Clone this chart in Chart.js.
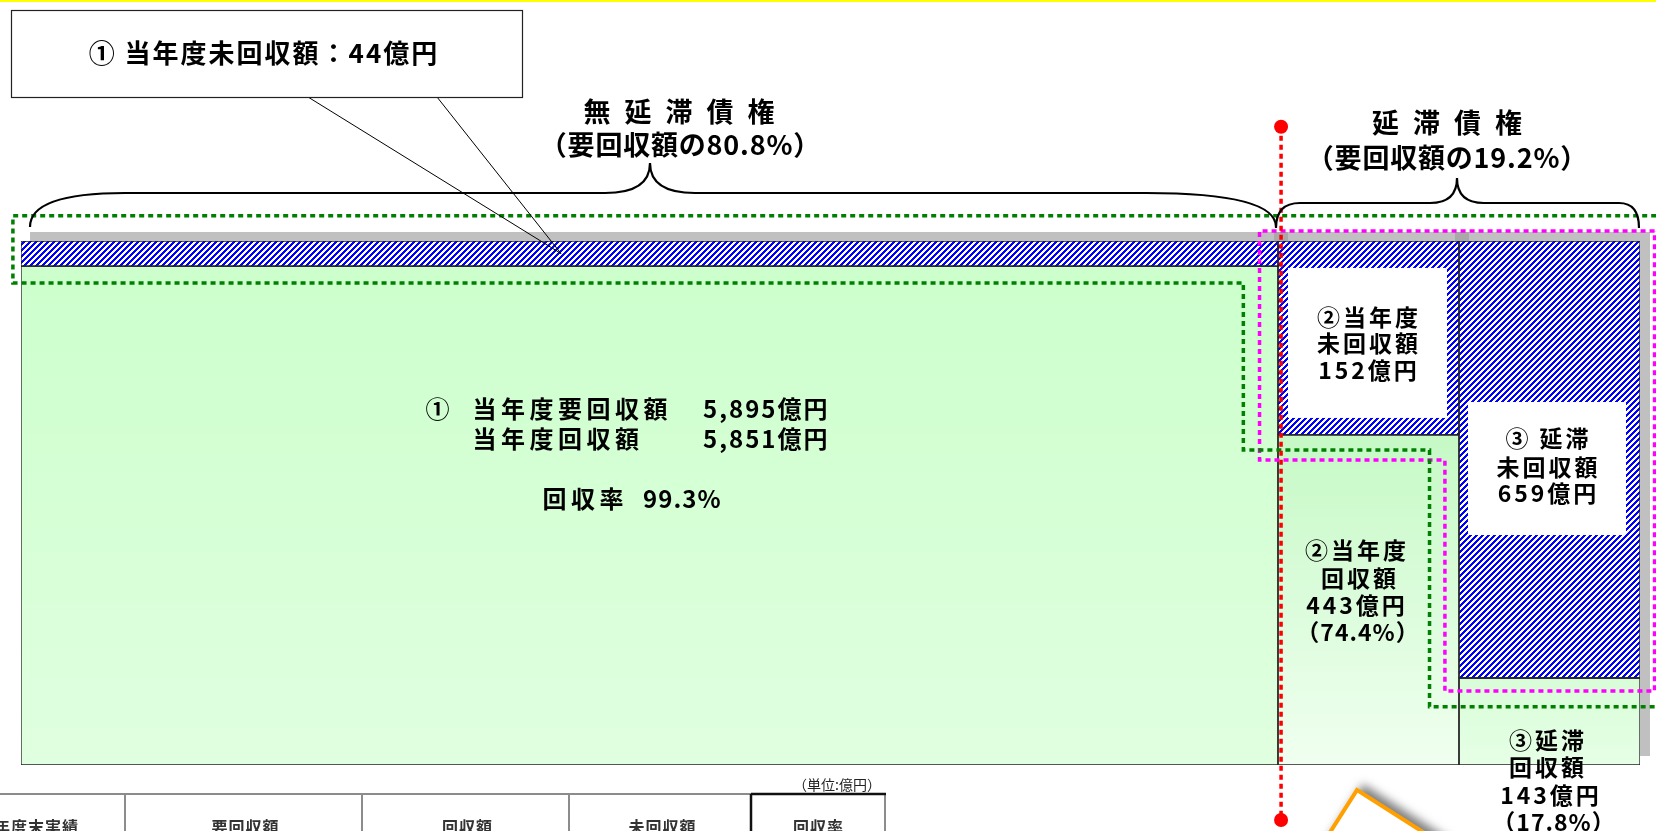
<!DOCTYPE html>
<html lang="ja">
<head>
<meta charset="UTF-8">
<title>当年度回収状況</title>
<script src="https://cdn.jsdelivr.net/npm/chart.js@4.4.1/dist/chart.umd.min.js"></script>
<style>
  html, body { margin: 0; padding: 0; background: #fff; }
  #wrap { position: relative; width: 1656px; height: 831px; }
</style>
</head>
<body>
<div id="wrap"><canvas id="chart"></canvas></div>
<script>
// ① 無延滞債権 / ② 延滞債権のうち当年度分 / ③ 延滞分
const categories = ['①', '②', '③'];
const requiredAmt = [5895, 595, 802];     // 要回収額（億円）
const collectedAmt = [5851, 443, 143];    // 回収額
const uncollectedAmt = [44, 152, 659];    // 未回収額
const collectRate = [99.3, 74.4, 17.8];   // 回収率（%）
const groupShare = [80.8, 19.2];          // 要回収額に占める割合（無延滞 / 延滞）
// 模式図なので描かれている幅と未回収部分の高さ（%）は別に持つ
const drawnWidth = [77.64, 11.18, 11.18];
const drawnUncollected = [4.8, 37.0, 83.4];

// 点線の囲み（x, y は上の 0〜100 の座標）
const greenLoopX = [101, -0.5, -0.5, 75.5, 75.5, 87.0, 87.0, 101];
const greenLoopY = [104.8, 104.8, 92.0, 92.0, 60.1, 60.1, 11.1, 11.1];
const pinkLoopX = [100.9, 76.5, 76.5, 87.95, 87.95, 100.9, 100.9];
const pinkLoopY = [101.9, 101.9, 58.2, 58.2, 14.1, 14.1, 101.9];
const redLineX = [77.83, 77.83];
const redLineY = [121.8, -10.5];

const JP = '"Noto Sans CJK JP", "Noto Sans", sans-serif';
const edges = [0];
drawnWidth.forEach((w, i) => edges.push(edges[i] + w));
const pts = (xs, ys) => xs.map((x, k) => ({x, y: ys[k]}));
const fmt = n => n.toLocaleString('en-US');

// 青の斜線（ドット単位でくっきり）
function makeHatch() {
  const n = 6;
  const t = document.createElement('canvas');
  t.width = n; t.height = n;
  const c = t.getContext('2d');
  c.fillStyle = '#fff';
  c.fillRect(0, 0, n, n);
  c.fillStyle = '#0000ff';
  for (let y = 0; y < n; y++) {
    for (let x = 0; x < n; x++) {
      if ((x + y) % n < 3) c.fillRect(x, y, 1, 1);
    }
  }
  return c.createPattern(t, 'repeat');
}
const hatch = makeHatch();

function greenFill(i) {
  const stops = [['#ccffcc', '#e0ffe0'], ['#c6f9c6', '#f0fff0'], ['#d8fdd8', '#e6ffe6']][i];
  return ctx => {
    const chart = ctx.chart;
    if (!chart.chartArea) return stops[0];
    const ys = chart.scales.y;
    const g = chart.ctx.createLinearGradient(0, ys.getPixelForValue(100 - drawnUncollected[i]), 0, ys.getPixelForValue(0));
    g.addColorStop(0, stops[0]);
    g.addColorStop(1, stops[1]);
    return g;
  };
}

function box(x0, x1, y0, y1) {
  return [{x: x0, y: y0}, {x: x0, y: y1}, {x: x1, y: y1}, {x: x1, y: y0}, {x: x0, y: y0}];
}

const datasets = [];
categories.forEach((c, i) => {
  const x0 = edges[i], x1 = edges[i + 1], mid = 100 - drawnUncollected[i];
  datasets.push({
    label: c + '回収額', data: [{x: x0, y: mid}, {x: x1, y: mid}],
    fill: {value: 0}, backgroundColor: greenFill(i),
    borderColor: 'rgba(0,0,0,0)', pointRadius: 0, order: 5
  });
  datasets.push({
    label: c + '未回収額', data: [{x: x0, y: 100}, {x: x1, y: 100}],
    fill: {value: mid}, backgroundColor: hatch,
    borderColor: 'rgba(0,0,0,0)', pointRadius: 0, order: 5
  });
  datasets.push({
    label: c + '枠1', data: box(x0, x1, 0, mid), fill: false,
    borderColor: '#222', borderWidth: 1.3, pointRadius: 0, order: 4
  });
  datasets.push({
    label: c + '枠2', data: box(x0, x1, mid, 100), fill: false,
    borderColor: '#222', borderWidth: 1.3, pointRadius: 0, order: 4
  });
});
datasets.push({
  label: 'green', data: pts(greenLoopX, greenLoopY), fill: false, clip: false,
  borderColor: '#007f00', borderWidth: 3.5, borderDash: [5, 4], pointRadius: 0, order: 2
});
datasets.push({
  label: 'pink', data: pts(pinkLoopX, pinkLoopY), fill: false, clip: false,
  borderColor: '#ff00ff', borderWidth: 3.5, borderDash: [5, 4], pointRadius: 0, order: 2
});
datasets.push({
  label: 'red', data: pts(redLineX, redLineY), fill: false, clip: false,
  borderColor: '#ff0000', borderWidth: 3.5, borderDash: [5, 4], pointRadius: 0, order: 1
});

function cellRect(chart, i, upper) {
  const xs = chart.scales.x, ys = chart.scales.y;
  const mid = 100 - drawnUncollected[i];
  const left = xs.getPixelForValue(edges[i]), right = xs.getPixelForValue(edges[i + 1]);
  const top = ys.getPixelForValue(upper ? 100 : mid), bottom = ys.getPixelForValue(upper ? mid : 0);
  return {left, right, top, bottom, cx: (left + right) / 2, cy: (top + bottom) / 2};
}

function spaced(ctx, text, x, y, gap, align) {
  const chars = Array.from(text);
  const ws = chars.map(ch => ctx.measureText(ch).width);
  const total = ws.reduce((s, w) => s + w, 0) + gap * (chars.length - 1);
  let cx = align === 'center' ? x - total / 2 : align === 'right' ? x - total : x;
  ctx.textAlign = 'left';
  chars.forEach((ch, k) => { ctx.fillText(ch, cx, y); cx += ws[k] + gap; });
}

function brace(ctx, x0, x1, xp, yBase, yMid, yTip, rL, rR, rP) {
  ctx.beginPath();
  ctx.moveTo(x0, yBase);
  ctx.quadraticCurveTo(x0, yMid, x0 + rL, yMid);
  ctx.lineTo(xp - rP, yMid);
  ctx.quadraticCurveTo(xp, yMid, xp, yTip);
  ctx.quadraticCurveTo(xp, yMid, xp + rP, yMid);
  ctx.lineTo(x1 - rR, yMid);
  ctx.quadraticCurveTo(x1, yMid, x1, yBase);
  ctx.stroke();
}

const decor = {
  id: 'decor',
  beforeDatasetsDraw(chart) {
    const {ctx, chartArea: a} = chart;
    ctx.save();
    ctx.fillStyle = '#c0c0c0';
    ctx.fillRect(a.left + 9, a.top - 9, a.right - a.left + 1, a.bottom - a.top);
    ctx.fillStyle = '#a9a9a9';
    [1, 2].forEach(i => {
      const x = chart.scales.x.getPixelForValue(edges[i]);
      ctx.fillRect(x - 4, a.top - 9, 14, 9);
    });
    ctx.restore();
  },
  afterDatasetsDraw(chart) {
    const ctx = chart.ctx;
    ctx.save();
    ctx.fillStyle = '#000';
    ctx.textBaseline = 'middle';

    // ① 無延滞債権
    const c0 = cellRect(chart, 0, false);
    ctx.font = 'bold 24px ' + JP;
    spaced(ctx, categories[0], c0.cx - 212, c0.cy - 107, 0, 'center');
    spaced(ctx, '当年度要回収額', c0.cx - 177, c0.cy - 107, 4.5, 'left');
    spaced(ctx, fmt(requiredAmt[0]) + '億円', c0.cx + 178, c0.cy - 107, 2, 'right');
    spaced(ctx, '当年度回収額', c0.cx - 177, c0.cy - 77, 4.5, 'left');
    spaced(ctx, fmt(collectedAmt[0]) + '億円', c0.cx + 178, c0.cy - 77, 2, 'right');
    spaced(ctx, '回収率', c0.cx - 107, c0.cy - 17, 4.5, 'left');
    spaced(ctx, collectRate[0].toFixed(1) + '%', c0.cx + 71, c0.cy - 17, 1, 'right');

    // ② / ③ 未回収額（白抜き）
    ctx.font = 'bold 23px ' + JP;
    const u1 = cellRect(chart, 1, true);
    const b1 = {x: u1.cx - 1, y: u1.cy + 5, w: 159, h: 150};
    ctx.fillStyle = '#fff';
    ctx.fillRect(b1.x - b1.w / 2, b1.y - b1.h / 2, b1.w, b1.h);
    ctx.fillStyle = '#000';
    spaced(ctx, categories[1] + '当年度', b1.x, b1.y - 26, 3, 'center');
    spaced(ctx, '未回収額', b1.x, b1.y, 3, 'center');
    spaced(ctx, uncollectedAmt[1] + '億円', b1.x, b1.y + 27, 3, 'center');

    const u2 = cellRect(chart, 2, true);
    const b2 = {x: u2.cx - 2.5, y: u2.cy + 9, w: 158, h: 133};
    ctx.fillStyle = '#fff';
    ctx.fillRect(b2.x - b2.w / 2, b2.y - b2.h / 2, b2.w, b2.h);
    ctx.fillStyle = '#000';
    spaced(ctx, categories[2] + ' 延滞', b2.x, b2.y - 30, 3, 'center');
    spaced(ctx, '未回収額', b2.x, b2.y - 1.5, 3, 'center');
    spaced(ctx, uncollectedAmt[2] + '億円', b2.x, b2.y + 25, 3, 'center');

    // ② / ③ 回収額
    const g1 = cellRect(chart, 1, false);
    spaced(ctx, categories[1] + '当年度', g1.cx - 13, g1.cy - 50, 3, 'center');
    spaced(ctx, '回収額', g1.cx - 10, g1.cy - 22, 3, 'center');
    spaced(ctx, collectedAmt[1] + '億円', g1.cx - 13, g1.cy + 5, 3, 'center');
    spaced(ctx, '（' + collectRate[1].toFixed(1) + '%）', g1.cx - 11, g1.cy + 32, 1, 'center');

    const g2 = cellRect(chart, 2, false);
    spaced(ctx, categories[2] + '延滞', g2.cx - 3, g2.cy + 18.5, 3, 'center');
    spaced(ctx, '回収額', g2.cx - 3, g2.cy + 45.5, 3, 'center');
    spaced(ctx, collectedAmt[2] + '億円', g2.cx, g2.cy + 73.5, 3, 'center');
    spaced(ctx, '（' + collectRate[2].toFixed(1) + '%）', g2.cx + 4, g2.cy + 100.5, 1, 'center');

    // 赤い点線の両端
    ctx.fillStyle = '#ff0000';
    redLineX.forEach((x, k) => {
      ctx.beginPath();
      ctx.arc(chart.scales.x.getPixelForValue(x), chart.scales.y.getPixelForValue(redLineY[k]), 7, 0, Math.PI * 2);
      ctx.fill();
    });
    ctx.fillStyle = '#000';

    // 波かっこと見出し
    ctx.strokeStyle = '#000';
    ctx.lineWidth = 2.2;
    brace(ctx, c0.left + 9, c0.right - 2, 650, 227, 193, 163, 95, 130, 45);
    brace(ctx, u1.left - 2, u2.right - 1, 1457, 228, 203, 178, 24, 20, 27);
    ctx.font = 'bold 27px ' + JP;
    spaced(ctx, '無延滞債権', 679, 112, 14, 'center');
    spaced(ctx, '（要回収額の' + groupShare[0].toFixed(1) + '%）', 680, 145, 0.8, 'center');
    spaced(ctx, '延滞債権', 1447, 123, 14, 'center');
    spaced(ctx, '（要回収額の' + groupShare[1].toFixed(1) + '%）', 1447, 158, 0.8, 'center');

    // 吹き出し
    const h0 = cellRect(chart, 0, true);
    const tx = 561, ty = h0.cy;
    ctx.lineWidth = 1;
    ctx.beginPath();
    ctx.moveTo(308, 97); ctx.lineTo(tx, ty);
    ctx.moveTo(437, 97); ctx.lineTo(tx, ty);
    ctx.stroke();
    ctx.fillStyle = '#fff';
    ctx.fillRect(11, 10, 511, 87);
    ctx.lineWidth = 1.2;
    ctx.strokeStyle = '#222';
    ctx.strokeRect(11.5, 10.5, 511, 87);
    ctx.fillStyle = '#000';
    ctx.font = 'bold 26px ' + JP;
    spaced(ctx, categories[0] + ' 当年度未回収額：' + uncollectedAmt[0] + '億円', 263, 53, 2, 'center');
    ctx.restore();
  },
  afterDraw(chart) {
    const ctx = chart.ctx;
    ctx.save();
    // 下の表（見出し行だけ見えている）
    ctx.fillStyle = '#222';
    ctx.textBaseline = 'middle';
    ctx.font = '14px ' + JP;
    spaced(ctx, '（単位:億円）', 881, 785, 0, 'right');
    ctx.lineWidth = 2;
    ctx.strokeStyle = '#8c8c8c';
    ctx.beginPath();
    ctx.moveTo(0, 794); ctx.lineTo(751, 794);
    [125, 362, 569, 885].forEach(x => { ctx.moveTo(x, 794); ctx.lineTo(x, 831); });
    ctx.stroke();
    ctx.strokeStyle = '#111';
    ctx.lineWidth = 2.5;
    ctx.beginPath();
    ctx.moveTo(751, 794); ctx.lineTo(886, 794);
    ctx.moveTo(751, 794); ctx.lineTo(751, 831);
    ctx.stroke();
    ctx.fillStyle = '#333';
    ctx.font = 'bold 16px ' + JP;
    spaced(ctx, '当年度末実績', 78, 827, 1, 'right');
    spaced(ctx, '要回収額', 245, 827, 1, 'center');
    spaced(ctx, '回収額', 467, 827, 1, 'center');
    spaced(ctx, '未回収額', 662, 827, 1, 'center');
    spaced(ctx, '回収率', 818, 827, 1, 'center');

    // 右下の吹き出し枠（一部だけ見えている）
    ctx.translate(1357, 790);
    ctx.rotate(32.5 * Math.PI / 180);
    ctx.shadowColor = 'rgba(0,0,0,0.5)';
    ctx.shadowBlur = 10;
    ctx.shadowOffsetX = 6;
    ctx.shadowOffsetY = -6;
    ctx.fillStyle = '#fff';
    ctx.fillRect(0, 0, 260, 110);
    ctx.shadowColor = 'rgba(0,0,0,0)';
    ctx.strokeStyle = '#ffa000';
    ctx.lineWidth = 4;
    ctx.strokeRect(0, 0, 260, 110);
    ctx.setTransform(1, 0, 0, 1, 0, 0);

    ctx.fillStyle = '#ffff00';
    ctx.fillRect(0, 0, 1656, 2);
    ctx.restore();
  }
};

new Chart(document.getElementById('chart'), {
  type: 'line',
  data: { datasets },
  options: {
    animation: false,
    responsive: true,
    maintainAspectRatio: false,
    events: [],
    layout: { padding: { left: 21, right: 16, top: 241, bottom: 66 } },
    scales: {
      x: { type: 'linear', min: 0, max: 100, display: false },
      y: { type: 'linear', min: 0, max: 100, display: false }
    },
    elements: { line: { tension: 0 } },
    plugins: { legend: { display: false }, tooltip: { enabled: false } }
  },
  plugins: [decor]
});
</script>
</body>
</html>
